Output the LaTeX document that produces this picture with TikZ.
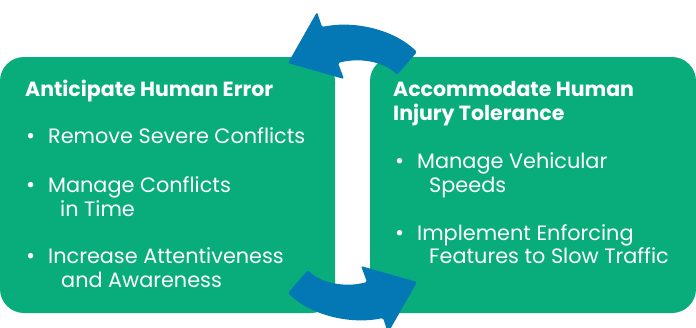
\documentclass[tikz,border=0pt]{standalone}
\usepackage{fontspec}
\setmainfont{Poppins}
\definecolor{boxgreen}{RGB}{9,173,123}
\definecolor{arrowblue}{RGB}{4,119,181}
\begin{document}
\begin{tikzpicture}[x=1pt,y=-1pt,
  panel/.style={fill=boxgreen,rounded corners=24pt},
  head/.style={anchor=base west,inner sep=0pt,text=white,font=\fontsize{20.5}{22}\selectfont\bfseries},
  item/.style={anchor=base west,inner sep=0pt,text=white,font=\fontsize{20.8}{22}\selectfont},
  dot/.style={anchor=base west,inner sep=0pt,text=white,font=\fontsize{22}{22}\selectfont},
  cyclearrow/.style={fill=arrowblue,rounded corners=1.5pt}]
\path[use as bounding box] (0,0) rectangle (696,327);
% panels
\fill[panel] (0,57) rectangle (335,313);
\fill[panel] (370,57) rectangle (696,313);
\node[coordinate] (L) at (167,185) {};
\node[coordinate] (R) at (533,185) {};
% left text
\node[head] (lh) at (25,96) {Anticipate Human Error};
\node[dot] (lb1) at (26,143) {•};
\node[item] (l1) at (48,143) {Remove Severe Conflicts};
\node[dot] (lb2) at (26,192) {•};
\node[item] (l2a) at (48,192) {Manage Conflicts};
\node[item] (l2b) at (60,216) {in Time};
\node[dot] (lb3) at (26,263) {•};
\node[item] (l3a) at (48,263) {Increase Attentiveness};
\node[item] (l3b) at (61,287) {and Awareness};
% right text
\node[head] (rh1) at (393,96) {Accommodate Human};
\node[head] (rh2) at (393,120) {Injury Tolerance};
\node[dot] (rb1) at (395,168) {•};
\node[item] (r1a) at (417,168) {Manage Vehicular};
\node[item] (r1b) at (429,192) {Speeds};
\node[dot] (rb2) at (395,240) {•};
\node[item] (r2a) at (417,240) {Implement Enforcing};
\node[item] (r2b) at (429,263) {Features to Slow Traffic};
% cycle arrows
\fill[cyclearrow] (417,52) .. controls (395,30) and (355,20) .. (322,27)
  -- (317,12) -- (288,63) -- (344,79) -- (338,63)
  .. controls (360,57) and (385,62) .. (397,75) -- cycle;
\begin{scope}[rotate around={180:(352.5,172.5)}]
\fill[cyclearrow] (417,52) .. controls (395,30) and (355,20) .. (322,27)
  -- (317,12) -- (288,63) -- (344,79) -- (338,63)
  .. controls (360,57) and (385,62) .. (397,75) -- cycle;
\end{scope}
\end{tikzpicture}
\end{document}
